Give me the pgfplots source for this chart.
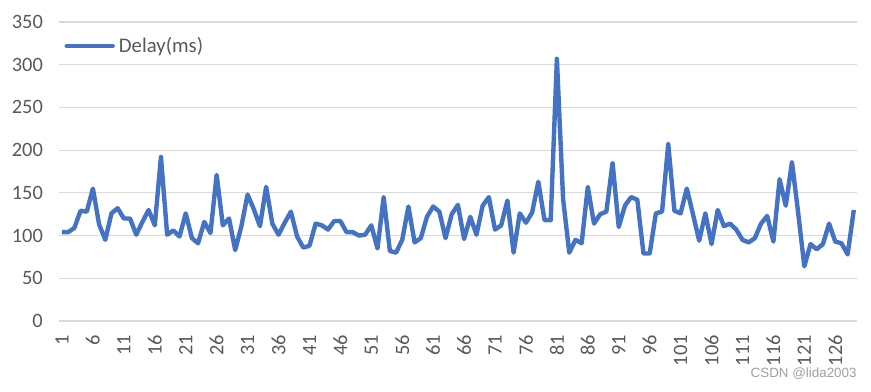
\documentclass[border=0pt]{standalone}
\usepackage{fontspec}
\setmainfont{Carlito}
\newfontfamily\wmfont{Liberation Sans}
\usepackage{pgfplots}
\pgfplotsset{compat=1.18}
\definecolor{linec}{HTML}{4472C4}
\definecolor{gridc}{HTML}{D9D9D9}
\definecolor{labc}{HTML}{595959}
\begin{document}
\begin{tikzpicture}
\useasboundingbox (0,0) rectangle (435.5pt,195.5pt);
\begin{axis}[
  at={(29.45pt,35pt)}, anchor=south west,
  scale only axis, width=399pt, height=149.5pt,
  xmin=0.5, xmax=129.5, ymin=0, ymax=350,
  ytick={0,50,...,350},
  xtick={1,6,...,126},
  ymajorgrids, grid style={gridc, line width=0.6pt},
  axis x line*=bottom, axis y line*=left,
  axis line style={draw=none},
  major tick length=0pt,
  tick style={draw=none},
  /pgf/number format/assume math mode=true,
  ticklabel style={font=\fontsize{10.2}{12}\selectfont, text=labc},
  yticklabel style={xshift=-4.5pt},
  xticklabel style={yshift=-3.5pt, rotate=90, anchor=east},
  legend style={draw=none, fill=none, at={(0.004,0.92)}, anchor=west,
    font=\fontsize{10.4}{12}\selectfont, text=labc, inner sep=1pt},
  legend image code/.code={\draw[#1, line width=2.2pt, line cap=round] (0pt,0pt) -- (23pt,0pt);},
]
\addplot[linec, line width=2.2pt, line join=round, mark=none] coordinates {
(1,104)(2,104)(3,109)(4,129)(5,128)(6,155)(7,113)(8,95)(9,126)(10,132)
(11,120)(12,120)(13,101)(14,116)(15,130)(16,112)(17,192)(18,101)(19,106)(20,99)
(21,126)(22,97)(23,91)(24,116)(25,103)(26,171)(27,112)(28,120)(29,83)(30,111)
(31,148)(32,131)(33,111)(34,157)(35,114)(36,101)(37,115)(38,128)(39,99)(40,86)
(41,88)(42,114)(43,112)(44,107)(45,117)(46,117)(47,104)(48,104)(49,100)(50,101)
(51,112)(52,85)(53,145)(54,82)(55,80)(56,95)(57,134)(58,92)(59,97)(60,122)
(61,134)(62,128)(63,97)(64,125)(65,136)(66,96)(67,122)(68,101)(69,135)(70,145)
(71,107)(72,112)(73,141)(74,80)(75,126)(76,115)(77,127)(78,163)(79,118)(80,118)
(81,307)(82,143)(83,80)(84,95)(85,91)(86,157)(87,114)(88,125)(89,128)(90,185)
(91,110)(92,135)(93,145)(94,142)(95,79)(96,79)(97,126)(98,128)(99,207)(100,129)
(101,126)(102,155)(103,125)(104,94)(105,126)(106,90)(107,130)(108,111)(109,114)(110,107)
(111,95)(112,92)(113,97)(114,114)(115,123)(116,93)(117,166)(118,135)(119,186)(120,127)
(121,64)(122,90)(123,84)(124,90)(125,114)(126,93)(127,91)(128,78)(129,130)
};
\addlegendentry{Delay(ms)}
\end{axis}
\node[anchor=east, inner sep=0pt, text=gray!75, font=\wmfont\fontsize{6.7}{8}\selectfont] at (428.5pt,8.5pt) {CSDN @lida2003};
\end{tikzpicture}
\end{document}
